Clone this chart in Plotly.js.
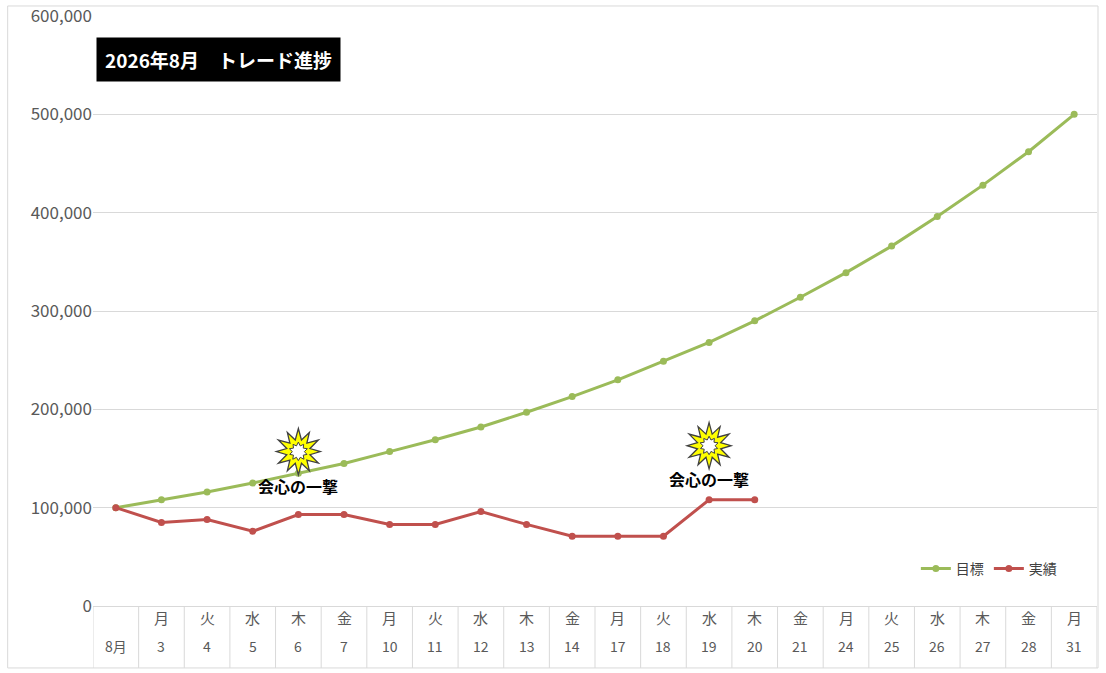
<!DOCTYPE html>
<html>
<head>
<meta charset="utf-8">
<script src="https://cdn.plot.ly/plotly-3.0.1.min.js"></script>
<style>body{margin:0;background:#fff}#plot{width:1106px;height:673px}</style>
</head>
<body>
<div id="plot"></div>
<script>
// date columns (first column is the start of the month)
var weekdays = ['', '月', '火', '水', '木', '金', '月', '火', '水', '木', '金', '月', '火', '水', '木', '金', '月', '火', '水', '木', '金', '月'];
var dates = ['8月', '3', '4', '5', '6', '7', '10', '11', '12', '13', '14', '17', '18', '19', '20', '21', '24', '25', '26', '27', '28', '31'];
var target = [100000, 108000, 116000, 125000, 135000, 145000, 157000, 169000, 182000, 197000, 213000, 230000, 249000, 268000, 290000, 314000, 339000, 366000, 396000, 428000, 462000, 500000];
var actual = [100000, 85000, 88000, 76000, 93000, 93000, 83000, 83000, 96000, 83000, 71000, 71000, 71000, 108000, 108000];
var hits = [{x: 4, y: 157000, ty: 122000}, {x: 13, y: 163000, ty: 129000}];

var idx = dates.map((d, i) => i);

var traceTarget = {
  x: idx, y: target, name: '目標', type: 'scatter', mode: 'lines+markers',
  line: {color: '#9BBB59', width: 3}, marker: {color: '#9BBB59', size: 7}
};
var traceActual = {
  x: idx.slice(0, actual.length), y: actual, name: '実績', type: 'scatter', mode: 'lines+markers',
  line: {color: '#C0504D', width: 3}, marker: {color: '#C0504D', size: 7}
};

// starburst path in pixels
function burst(n, ro, ri) {
  var p = '';
  for (var k = 0; k < n * 2; k++) {
    var r = k % 2 ? ri : ro;
    if (k % 4 == 0) r = ro * 1.05;
    var a = Math.PI * k / n - Math.PI / 2;
    p += (k ? 'L' : 'M') + (r * Math.cos(a)).toFixed(1) + ',' + (-r * Math.sin(a)).toFixed(1);
  }
  return p + 'Z';
}

var shapes = [];
var annotations = [];
// table lines below the axis
for (var i = 0; i <= dates.length; i++) {
  shapes.push({type: 'line', xref: 'x', yref: 'paper', x0: i - 0.5, x1: i - 0.5, y0: 0, y1: -0.105,
    line: {color: '#D9D9D9', width: 1}});
}
dates.forEach((d, i) => {
  annotations.push({x: i, y: -0.04, xref: 'x', yref: 'paper', text: weekdays[i], showarrow: false,
    font: {size: 15, color: '#595959'}});
  annotations.push({x: i, y: -0.088, xref: 'x', yref: 'paper', text: d, showarrow: false,
    font: {size: 14, color: '#595959'}});
});
hits.forEach(h => {
  shapes.push({type: 'path', xref: 'x', yref: 'y', xsizemode: 'pixel', ysizemode: 'pixel',
    xanchor: h.x, yanchor: h.y, path: burst(12, 22, 12),
    fillcolor: '#FFFF00', line: {color: '#404040', width: 1.3}});
  shapes.push({type: 'path', xref: 'x', yref: 'y', xsizemode: 'pixel', ysizemode: 'pixel',
    xanchor: h.x, yanchor: h.y, path: burst(10, 9, 6),
    fillcolor: '#FFFFFF', line: {color: '#404040', width: 1}});
  annotations.push({x: h.x, y: h.ty, xref: 'x', yref: 'y', text: '<b>会心の一撃</b>', showarrow: false,
    font: {size: 16, color: '#000', family: 'Noto Sans CJK JP'}});
});
annotations.push({x: 0.003, y: 0.965, xref: 'paper', yref: 'paper', xanchor: 'left', yanchor: 'top',
  text: '<b>2026年8月　トレード進捗</b>', showarrow: false, bgcolor: '#000', borderpad: 8,
  font: {size: 19, color: '#fff', family: 'Noto Sans CJK JP'}});
shapes.push({type: 'rect', xref: 'paper', yref: 'paper', x0: -0.085, x1: 1.001, y0: -0.105, y1: 1.017,
  line: {color: '#D9D9D9', width: 1}});

var layout = {
  width: 1106, height: 673,
  margin: {l: 93, r: 9, t: 16, b: 67},
  paper_bgcolor: '#fff', plot_bgcolor: '#fff',
  font: {family: 'Noto Sans CJK JP, sans-serif', color: '#595959'},
  showlegend: true,
  legend: {orientation: 'h', x: 0.965, xanchor: 'right', y: 0.063, yanchor: 'middle', font: {size: 14, color: '#404040'}},
  xaxis: {range: [-0.5, 21.5], showticklabels: false, showgrid: false, zeroline: false,
    showline: true, linecolor: '#D9D9D9', fixedrange: true},
  yaxis: {range: [0, 600000], dtick: 100000, tickformat: ',', gridcolor: '#D9D9D9', zeroline: false,
    tickfont: {size: 17, color: '#595959'}, ticks: '', ticklen: 0},
  shapes: shapes,
  annotations: annotations
};

Plotly.newPlot('plot', [traceTarget, traceActual], layout, {displayModeBar: false});
</script>
</body>
</html>
